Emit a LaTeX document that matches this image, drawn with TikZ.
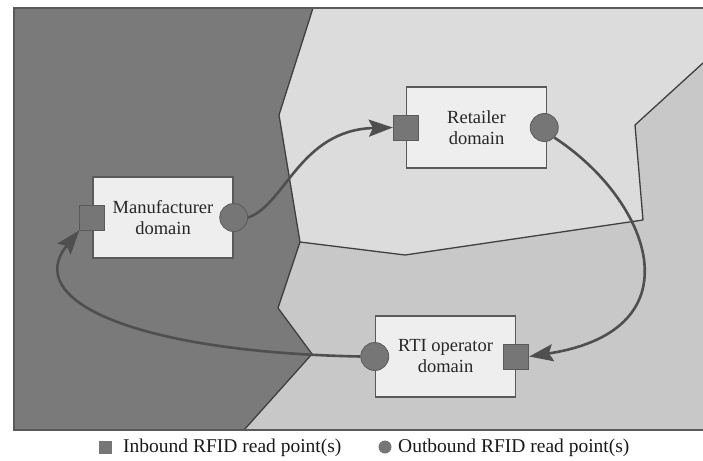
\documentclass[tikz,border=0pt]{standalone}
\usepackage{fontspec}
\setmainfont{Liberation Serif}
\usetikzlibrary{arrows.meta}
\definecolor{darkreg}{HTML}{7A7A7A}
\definecolor{lightreg}{HTML}{DCDCDC}
\definecolor{midreg}{HTML}{C8C8C8}
\definecolor{boxfill}{HTML}{EEEEEE}
\definecolor{edge}{HTML}{5A5A5A}
\definecolor{marker}{HTML}{767676}
\definecolor{flow}{HTML}{4F4F4F}
\definecolor{bound}{HTML}{3F3F3F}
\begin{document}
\begin{tikzpicture}[x=1pt,y=-1pt,
 domainbox/.style={draw=edge, line width=1.5pt, fill=boxfill, minimum width=140pt, minimum height=81pt, align=center, font=\fontsize{18.5}{21}\selectfont, text=black!85, inner sep=0pt},
 inpt/.style={rectangle, draw=edge, fill=marker, minimum size=25pt, inner sep=0pt, line width=0.8pt},
 outpt/.style={circle, draw=edge, fill=marker, minimum size=28pt, inner sep=0pt, line width=0.8pt},
 flowarrow/.style={draw=flow, line width=2.6pt, -{Stealth[length=24pt,width=17pt,inset=4pt]}},
 boundary/.style={draw=bound, line width=1.3pt, line join=round},
 legendtext/.style={font=\fontsize{19.5}{22}\selectfont, text=black!90, anchor=west, inner sep=0pt}
]
\useasboundingbox (0,0) rectangle (703,460);
\fill[midreg] (14,8) rectangle (703,430);
\fill[darkreg] (14,8) -- (313,8) -- (279,115) -- (300,242) -- (278,308) -- (312,354) -- (244,430) -- (14,430) -- cycle;
\fill[lightreg] (313,8) -- (703,8) -- (703,63) -- (635,125) -- (643,220) -- (405,255) -- (300,242) -- (279,115) -- cycle;
\draw[boundary] (313,8) -- (279,115) -- (300,242) -- (278,308) -- (312,354) -- (244,430);
\draw[boundary] (300,242) -- (405,255) -- (643,220) -- (635,125) -- (703,63);
\draw[draw=edge, line width=2pt] (703,8) -- (14,8) -- (14,430) -- (703,430);

\node[domainbox] (mfr) at (163,217.5) {Manufacturer\\domain};
\node[domainbox] (ret) at (476.5,127.5) {Retailer\\domain};
\node[domainbox] (rti) at (445.5,356.5) {RTI operator\\domain};

\node[inpt] (mfrin) at (mfr.west) {};
\node[outpt] (mfrout) at (mfr.east) {};
\node[inpt] (retin) at (ret.west) {};
\node[outpt] (retout) at ([xshift=-3pt]ret.east) {};
\node[outpt] (rtiout) at (rti.west) {};
\node[inpt] (rtiin) at (rti.east) {};

\draw[flowarrow] (mfrout.east) .. controls (285,205) and (300,130) .. (retin.west);
\draw[flowarrow] (retout.south east) .. controls (650,200) and (700,330) .. (rtiin.east);
\draw[flowarrow] (rtiout.west) .. controls (133,352) and (22,300) .. (mfrin.south west);

\node[inpt, minimum size=13pt, draw=none] (legin) at (105,447) {};
\node[legendtext] (legintext) at (123,447.5) {Inbound RFID read point(s)};
\node[outpt, minimum size=13pt, draw=none] (legout) at (385,447) {};
\node[legendtext] (legouttext) at (398,447.5) {Outbound RFID read point(s)};
\end{tikzpicture}
\end{document}
